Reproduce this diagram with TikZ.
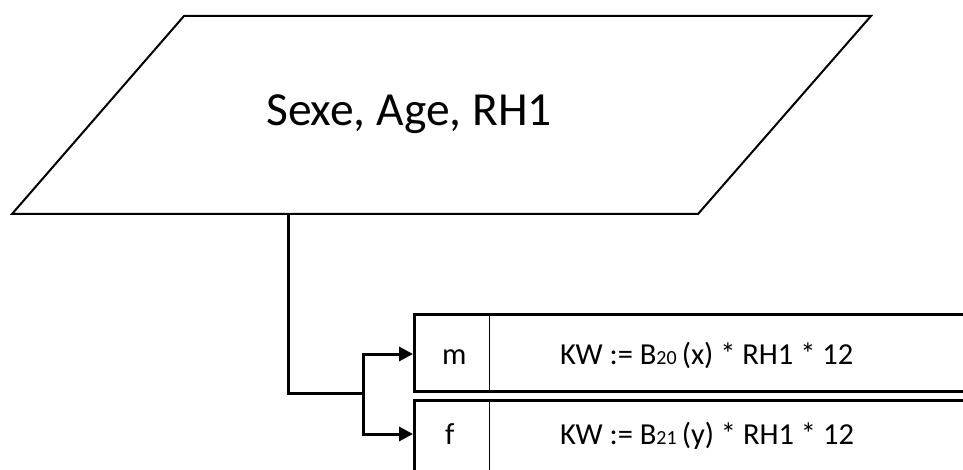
\documentclass[tikz,border=0pt]{standalone}
\usepackage{fontspec}
\setmainfont{Carlito}
\usetikzlibrary{arrows.meta}
\tikzset{
  shapeline/.style={line width=2pt, line join=miter},
  boxline/.style={line width=2.6pt},
  divline/.style={line width=1pt},
  conn/.style={line width=3pt},
  arr/.style={conn, -{Triangle[length=14pt,width=14pt]}},
  bigtxt/.style={font=\fontsize{47.5}{56}\selectfont, inner sep=0pt, anchor=base west},
  celltxt/.style={font=\fontsize{30.5}{36}\selectfont, inner sep=0pt, anchor=base west},
}
\newcommand{\smallsub}[1]{{\fontsize{20}{22}\selectfont #1}}
\begin{document}
\begin{tikzpicture}[x=1pt,y=-1pt]
\useasboundingbox (0,0) rectangle (963,470);
\clip (0,0) rectangle (963,470);
% parallelogram
\coordinate (ptl) at (184,16);
\coordinate (ptr) at (871,16);
\coordinate (pbr) at (698,214);
\coordinate (pbl) at (12,214);
\draw[shapeline] (ptl) -- (ptr) -- (pbr) -- (pbl) -- cycle;
\node[bigtxt] (ptext) at (266,126) {Sexe, Age, RH1};
% boxes
\node[draw, boxline, anchor=north west, minimum width=600, minimum height=77, inner sep=0pt] (mbox) at (413,313) {};
\node[draw, boxline, anchor=north west, minimum width=600, minimum height=100, inner sep=0pt] (fbox) at (413,399) {};
\draw[divline] (489,313) -- (489,390);
\draw[divline] (489,399) -- (489,480);
\node[celltxt] (mlab) at (442,364) {m};
\node[celltxt] (flab) at (445,444) {f};
\node[celltxt] (mexpr) at (560,364) {KW := B\smallsub{20}\,(x) * RH1 * 12};
\node[celltxt] (fexpr) at (560,444) {KW := B\smallsub{21}\,(y) * RH1 * 12};
% connectors
\coordinate (pbot) at (288,214);
\coordinate (split) at (363,393);
\coordinate (main) at (413,354);
\coordinate (fin) at (413,434);
\draw[conn] (pbot) |- (split);
\draw[arr] (split) |- (main);
\draw[arr] (split) |- (fin);
\end{tikzpicture}
\end{document}
